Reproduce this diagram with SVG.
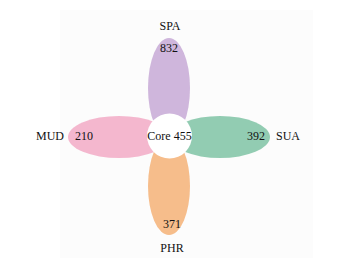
<svg xmlns="http://www.w3.org/2000/svg" width="341" height="275" viewBox="0 0 341 275">
<style>
text{font-family:"Liberation Serif","Times New Roman",serif;font-size:12px;fill:#111;text-anchor:middle}
.p{opacity:0.85}
</style>
<rect width="341" height="275" fill="#fff"/>
<rect x="60" y="10" width="253" height="248" fill="#fcfcfc"/>
<g id="SPA"><ellipse class="p" cx="169" cy="88" rx="21" ry="50" fill="#c7a9d6"/></g>
<g id="MUD"><ellipse class="p" cx="119" cy="137" rx="51" ry="21" fill="#f2aac6"/></g>
<g id="SUA"><ellipse class="p" cx="220" cy="137" rx="50" ry="21" fill="#7fc3a5"/></g>
<g id="PHR"><ellipse class="p" cx="169" cy="186" rx="21" ry="49" fill="#f5b177"/></g>
<g id="core"><circle cx="169.5" cy="136" r="22.5" fill="#fff"/><text x="169.5" y="140">Core 455</text></g>
<g id="labels">
<text x="170" y="30">SPA</text>
<text x="169" y="52">832</text>
<text x="50" y="140">MUD</text>
<text x="84" y="140">210</text>
<text x="256" y="140">392</text>
<text x="288" y="140">SUA</text>
<text x="172" y="228">371</text>
<text x="172" y="252">PHR</text>
</g>
<g id="connectors"/>
</svg>
